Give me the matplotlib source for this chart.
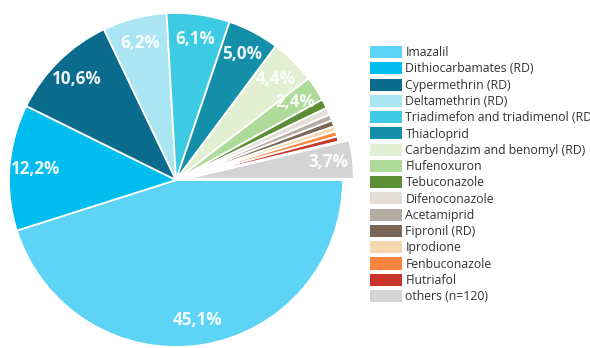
import matplotlib
matplotlib.use("Agg")
import matplotlib.pyplot as plt
from matplotlib.patches import Rectangle

substances = [
    "Imazalil",
    "Dithiocarbamates (RD)",
    "Cypermethrin (RD)",
    "Deltamethrin (RD)",
    "Triadimefon and triadimenol (RD)",
    "Thiacloprid",
    "Carbendazim and benomyl (RD)",
    "Flufenoxuron",
    "Tebuconazole",
    "Difenoconazole",
    "Acetamiprid",
    "Fipronil (RD)",
    "Iprodione",
    "Fenbuconazole",
    "Flutriafol",
    "others (n=120)",
]
shares = [45.1, 12.2, 10.6, 6.2, 6.1, 5.0, 4.4, 2.4,
          0.9, 0.7, 0.6, 0.6, 0.5, 0.5, 0.5, 3.7]
colors = [
    "#5dd3f6", "#00bdf0", "#0b6b8c", "#a9e5f3", "#3ccbe2", "#138fa9",
    "#e3efd2", "#afdb9a", "#5c8f35", "#e3dfd7", "#b7aca2", "#7b6757",
    "#f6d8b0", "#f9853f", "#c9352b", "#d4d4d4",
]
offsets = [0.0] * (len(shares) - 1) + [0.065]

W, H = 590, 348
fig = plt.figure(figsize=(W / 100, H / 100), dpi=100)

# pie axes: centre at (176, 180) px from top-left, radius 167 px
r_px = 167
lim = 1.1
cx, cy = 176, H - 180
side = 2 * lim * r_px
ax = fig.add_axes([(cx - side / 2) / W, (cy - side / 2) / H, side / W, side / H])

wedges, texts, autotexts = ax.pie(
    shares,
    colors=colors,
    explode=offsets,
    startangle=0,
    counterclock=False,
    autopct=lambda p: (f"{p:.1f}%".replace(".", ",") if p >= 2 else ""),
    pctdistance=0.85,
    wedgeprops=dict(edgecolor="white", linewidth=1.3),
    textprops=dict(color="white", fontsize=12.3, fontweight="bold",
                   family=["Open Sans", "DejaVu Sans"]),
)
for t in autotexts:
    t.set_alpha(0.92)
ax.set_xlim(-lim, lim)
ax.set_ylim(-lim, lim)
ax.set_aspect("equal")
ax.axis("off")

handles = [Rectangle((0, 0), 1, 1, facecolor=c, edgecolor="none") for c in colors]
leg = fig.legend(
    handles, substances,
    loc="upper left",
    bbox_to_anchor=(370 / W, 1 - 46 / H),
    frameon=False,
    prop=dict(family=["Open Sans", "DejaVu Sans"], size=8.8),
    handlelength=2.6,
    handleheight=1.15,
    handletextpad=0.3,
    labelspacing=0.25,
    borderaxespad=0,
    borderpad=0,
)
for t in leg.get_texts():
    t.set_color("#333333")

fig.savefig("out.png", dpi=100, facecolor="white")
